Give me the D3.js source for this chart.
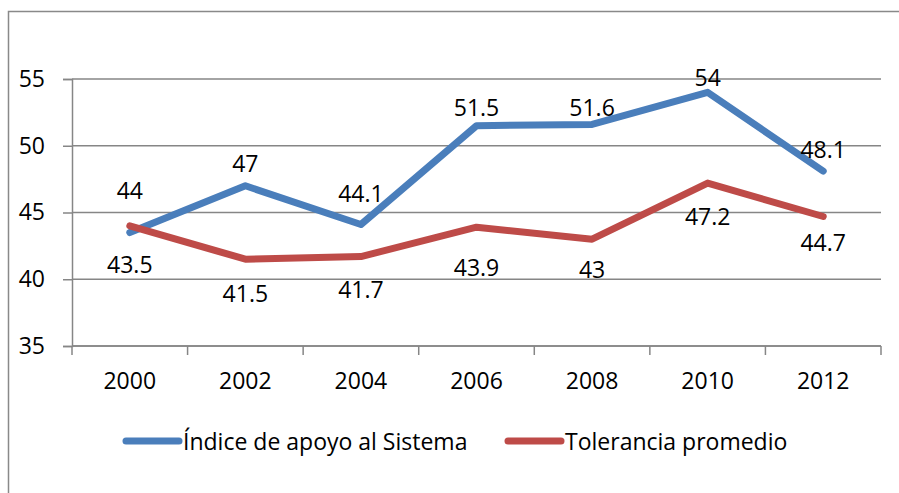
<!DOCTYPE html>
<html>
<head>
<meta charset="utf-8">
<script src="https://cdn.jsdelivr.net/npm/d3@7"></script>
<style>
  body { margin: 0; background: #fff; }
  text { font-family: "Open Sans", "Liberation Sans", sans-serif; fill: #000; }
</style>
</head>
<body>
<div id="chart"></div>
<script>
// data
var years = ["2000", "2002", "2004", "2006", "2008", "2010", "2012"];
var apoyo = [43.5, 47, 44.1, 51.5, 51.6, 54, 48.1];
var tolerancia = [44, 41.5, 41.7, 43.9, 43, 47.2, 44.7];
var yTicks = [35, 40, 45, 50, 55];
var seriesNames = ["Índice de apoyo al Sistema", "Tolerancia promedio"];

// label nudges (px from the point, negative = above)
var apoyoLabelDy = [31, -23, -32, -19, -17, -15, -22];
var toleranciaLabelDy = [-36, 34, 32, 40, 30, 33, 25];

var width = 899, height = 493;
var margin = { top: 79, right: 18, bottom: 147, left: 72 };
var fontSize = "23px";

var svg = d3.select("#chart").append("svg")
    .attr("width", width)
    .attr("height", height);

// outer frame (runs off the right and bottom edges)
svg.append("rect")
    .attr("x", 8.5).attr("y", 11.5)
    .attr("width", 900).attr("height", 500)
    .attr("fill", "none")
    .attr("stroke", "#898989")
    .attr("stroke-width", 1.5);

var x = d3.scaleBand().domain(years).range([margin.left, width - margin.right]);
var y = d3.scaleLinear().domain([35, 55]).range([height - margin.bottom, margin.top]);

var grey = "#868686";

// gridlines
svg.append("g")
    .selectAll("line")
    .data(yTicks)
    .enter().append("line")
    .attr("x1", margin.left)
    .attr("x2", width - margin.right)
    .attr("y1", function(d) { return y(d); })
    .attr("y2", function(d) { return y(d); })
    .attr("stroke", grey)
    .attr("stroke-width", 1.5);

// y axis
var yAxis = d3.axisLeft(y).tickValues(yTicks).tickSize(9).tickPadding(18);
var gY = svg.append("g")
    .attr("transform", "translate(" + margin.left + ",0)")
    .call(yAxis);
gY.selectAll("text").style("font-size", fontSize).attr("fill", "#000");
gY.selectAll("path.domain").attr("stroke", grey).attr("stroke-width", 1.5);
gY.selectAll(".tick line").attr("stroke", grey).attr("stroke-width", 1.5);

// x axis, ticks sit between categories
var gX = svg.append("g")
    .attr("transform", "translate(0," + y(35) + ")");
gX.append("line")
    .attr("x1", margin.left).attr("x2", width - margin.right)
    .attr("stroke", grey).attr("stroke-width", 1.5);
var bounds = years.map(function(d) { return x(d); }).concat([x.range()[1]]);
gX.selectAll(".tk")
    .data(bounds)
    .enter().append("line")
    .attr("class", "tk")
    .attr("x1", function(d) { return d; })
    .attr("x2", function(d) { return d; })
    .attr("y1", 0).attr("y2", 9)
    .attr("stroke", grey).attr("stroke-width", 1.5);
gX.selectAll(".lbl")
    .data(years)
    .enter().append("text")
    .attr("class", "lbl")
    .attr("x", function(d) { return x(d) + x.bandwidth() / 2; })
    .attr("y", 34)
    .attr("text-anchor", "middle")
    .attr("dominant-baseline", "central")
    .style("font-size", fontSize)
    .text(function(d) { return d; });

var series = [
    { name: seriesNames[0], values: apoyo, dy: apoyoLabelDy, color: "#4a7ebb" },
    { name: seriesNames[1], values: tolerancia, dy: toleranciaLabelDy, color: "#be4b48" }
];

var line = d3.line()
    .x(function(d, i) { return x(years[i]) + x.bandwidth() / 2; })
    .y(function(d) { return y(d); });

series.forEach(function(s) {
    svg.append("path")
        .datum(s.values)
        .attr("d", line)
        .attr("fill", "none")
        .attr("stroke", s.color)
        .attr("stroke-width", 7)
        .attr("stroke-linecap", "round")
        .attr("stroke-linejoin", "round");
});

// data labels
series.forEach(function(s) {
    svg.append("g")
        .selectAll("text")
        .data(s.values)
        .enter().append("text")
        .attr("x", function(d, i) { return x(years[i]) + x.bandwidth() / 2; })
        .attr("y", function(d, i) { return y(d) + s.dy[i]; })
        .attr("text-anchor", "middle")
        .attr("dominant-baseline", "central")
        .style("font-size", fontSize)
        .text(function(d) { return d; });
});

// legend
var legendX = [123, 505];
var legend = svg.append("g");
series.forEach(function(s, i) {
    var g = legend.append("g").attr("transform", "translate(" + legendX[i] + ",441)");
    g.append("line")
        .attr("x1", 3).attr("x2", 56)
        .attr("stroke", s.color)
        .attr("stroke-width", 7)
        .attr("stroke-linecap", "round");
    g.append("text")
        .attr("x", 60)
        .attr("y", 0)
        .attr("dominant-baseline", "central")
        .style("font-size", fontSize)
        .text(s.name);
});
</script>
</body>
</html>
